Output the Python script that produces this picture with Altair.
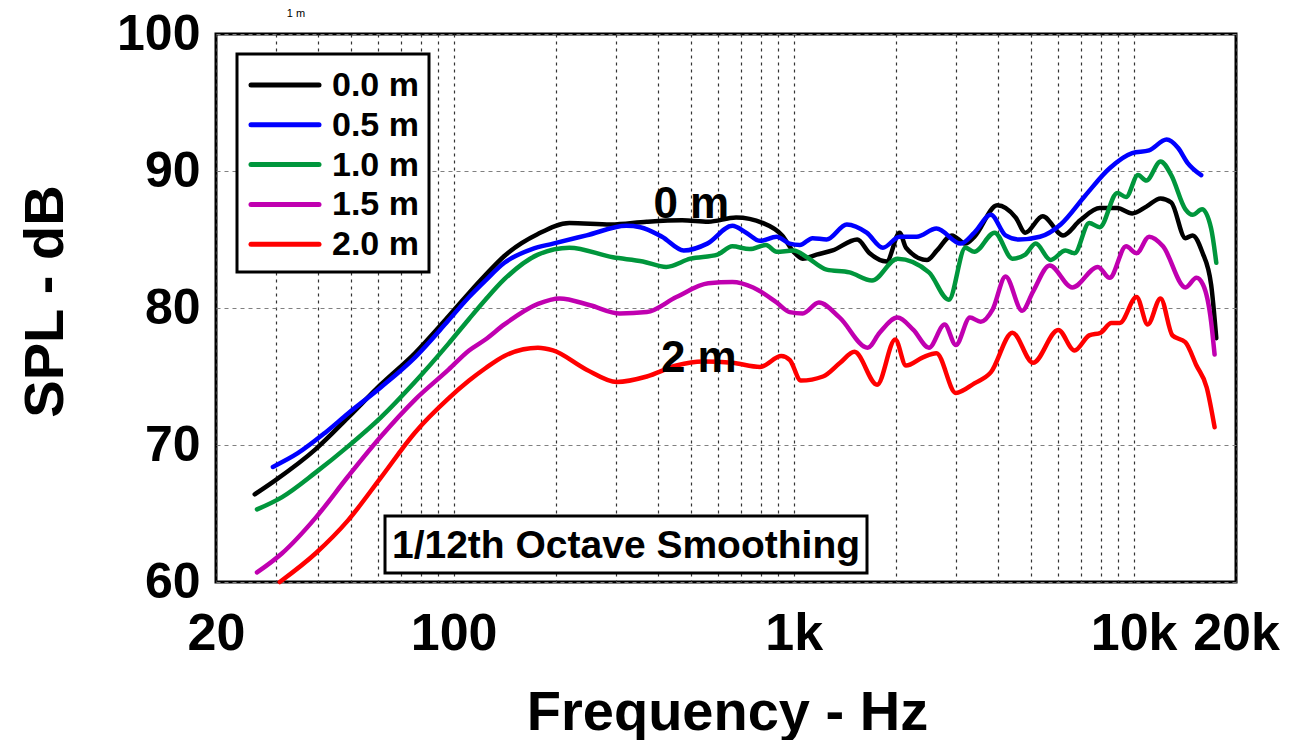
import altair as alt
import pandas as pd

FONT = "Liberation Sans"

series_names = ["0.0 m", "0.5 m", "1.0 m", "1.5 m", "2.0 m"]
series_colors = ["#000000", "#0000ff", "#00963c", "#c000b0", "#ff0000"]

freq_00 = [26, 29.8, 39.3, 48.9, 61, 76.9, 96.6, 111, 124, 141, 177, 219, 290, 370, 470, 561, 677, 813, 925, 1000,
           1063, 1168, 1302, 1538, 1673, 1877, 2050, 2140, 2466, 2640, 2920, 3200, 3400, 3970, 4500, 4800, 5400,
           6200, 6960, 7950, 8950, 9900, 10900, 12000, 12900, 14200, 14900, 15900, 16900, 17500]
spl_00 = [66.4, 67.4, 69.7, 72.0, 74.4, 76.7, 79.4, 81.1, 82.4, 83.8, 85.4, 86.2, 86.1, 86.3, 86.4, 86.3, 86.6, 86.2,
          85.3, 84.1, 83.6, 83.9, 84.2, 85.0, 84.0, 83.4, 85.5, 84.4, 83.5, 84.2, 85.3, 84.7, 85.2, 87.5, 86.6, 85.5,
          86.7, 85.3, 86.4, 87.3, 87.3, 86.9, 87.4, 88.0, 87.7, 85.1, 85.3, 84.1, 81.7, 77.8]

freq_05 = [29.4, 34.8, 41.9, 48.9, 61, 77, 96.6, 111, 124, 141, 170, 196, 246, 322, 354, 410, 475, 557, 660, 725,
           797, 891, 973, 1043, 1137, 1250, 1433, 1640, 1830, 2050, 2300, 2630, 3100, 3400, 3800, 4200, 4600, 5300,
           6100, 7200, 8500, 9900, 11100, 12500, 13500, 14400, 15800]
spl_05 = [68.4, 69.4, 70.9, 72.3, 74.2, 76.4, 79.1, 80.8, 82.0, 83.3, 84.3, 84.7, 85.3, 86.0, 85.9, 85.2, 84.2, 84.7,
          86.0, 85.5, 84.9, 85.2, 84.7, 84.6, 85.1, 85.0, 86.1, 85.5, 84.4, 85.2, 85.2, 85.8, 84.7, 85.5, 86.8, 85.3,
          85.0, 85.2, 86.1, 88.2, 90.2, 91.3, 91.5, 92.3, 91.7, 90.6, 89.7]

freq_10 = [26.4, 31.3, 39.3, 48.9, 61, 76.9, 96.6, 111, 124, 141, 177, 219, 294, 360, 422, 497, 597, 660, 742, 829,
           891, 1000, 1094, 1250, 1460, 1700, 2020, 2500, 2860, 3200, 3400, 3900, 4400, 4800, 5150, 5700, 6300, 6700,
           7400, 7950, 8950, 9500, 10300, 10900, 12000, 12900, 14200, 14900, 15900, 16900, 17500]
spl_10 = [65.3, 66.2, 68.0, 69.9, 72.0, 74.6, 77.4, 79.2, 80.6, 82.1, 83.9, 84.4, 83.7, 83.4, 83.0, 83.6, 83.9, 84.5,
          84.3, 84.6, 84.1, 84.2, 83.7, 82.8, 82.6, 82.0, 83.6, 82.6, 80.6, 84.4, 84.1, 85.5, 83.6, 83.9, 84.7, 83.5,
          84.2, 84.0, 86.2, 85.9, 88.4, 88.1, 89.7, 89.3, 90.7, 89.7, 87.2, 86.8, 87.2, 85.8, 83.3]

freq_15 = [26.4, 31.3, 39.3, 48.9, 61, 76.9, 96.6, 111, 124, 141, 177, 205, 252, 308, 370, 452, 561, 660, 760, 891,
           973, 1063, 1186, 1366, 1651, 1790, 2020, 2250, 2500, 2780, 3000, 3300, 3550, 3850, 4200, 4700, 5060, 5660,
           6600, 7850, 8500, 9500, 10200, 11100, 12200, 14200, 15300, 16000, 16900, 17300]
spl_15 = [60.7, 62.1, 64.7, 67.7, 70.6, 73.3, 75.5, 76.9, 77.7, 78.8, 80.3, 80.7, 80.2, 79.6, 79.7, 80.8, 81.8, 81.9,
          81.5, 80.4, 79.7, 79.6, 80.4, 79.3, 77.1, 78.2, 79.3, 78.4, 77.1, 78.8, 77.3, 79.3, 79.0, 79.9, 82.3, 79.8,
          81.2, 83.1, 81.5, 83.0, 82.2, 84.5, 84.0, 85.2, 84.5, 81.5, 82.2, 81.7, 79.0, 76.6]

freq_20 = [30.8, 39.3, 48.9, 61, 76.9, 96.6, 111, 124, 141, 177, 196, 246, 302, 370, 452, 540, 660, 797, 920, 975,
           1050, 1220, 1370, 1510, 1760, 1990, 2140, 2400, 2630, 3000, 3400, 3800, 4400, 5060, 6000, 6700, 7400, 8000,
           8600, 9100, 10200, 11000, 12000, 13000, 14200, 15300, 16400, 17300]
spl_20 = [60.0, 62.1, 64.5, 67.6, 70.9, 73.4, 74.7, 75.6, 76.5, 77.1, 76.9, 75.5, 74.6, 75.0, 75.8, 76.1, 76.0, 75.7,
          76.5, 76.2, 74.7, 75.0, 76.0, 76.8, 74.4, 77.7, 75.8, 76.4, 76.7, 73.8, 74.5, 75.3, 78.2, 76.0, 78.4, 76.9,
          78.0, 78.2, 78.9, 78.9, 80.8, 78.8, 80.7, 78.0, 77.5, 75.8, 74.2, 71.3]

x_label_values = [20, 100, 1000, 10000, 20000]
x_label_texts = ["20", "100", "1k", "10k", "20k"]
x_grid_values = [30, 40, 50, 60, 70, 80, 90, 100, 200, 300, 400, 500, 600, 700, 800, 900, 1000,
                 2000, 3000, 4000, 5000, 6000, 7000, 8000, 9000, 10000]
y_tick_values = [60, 70, 80, 90, 100]

note_texts = ["0 m", "2 m"]
note_freqs = [500, 526]
note_spl = [86.6, 75.3]

box_text = "1/12th Octave Smoothing"
top_text = "1 m"

rows = []
for name, fs, ss in zip(series_names, [freq_00, freq_05, freq_10, freq_15, freq_20],
                        [spl_00, spl_05, spl_10, spl_15, spl_20]):
    for f, s in zip(fs, ss):
        rows.append({"series": name, "freq": f, "spl": s})
df = pd.DataFrame(rows)

all_x_values = sorted(set(x_grid_values + x_label_values))
label_expr = " : ".join(f"datum.value == {v} ? '{t}'" for v, t in zip(x_label_values, x_label_texts)) + " : ''"

x_scale = alt.Scale(type="log", domain=[20, 20000], nice=False)
y_scale = alt.Scale(domain=[60, 100], nice=False, zero=False)

lines = alt.Chart(df).mark_line(strokeWidth=4.5, strokeCap="round", strokeJoin="round",
                                interpolate="monotone").encode(
    x=alt.X("freq:Q", scale=x_scale,
            axis=alt.Axis(values=all_x_values, labelExpr=label_expr, grid=True, gridDash=[3, 4],
                          gridColor="#333333", gridWidth=1.2, ticks=False, domain=False,
                          labelFont=FONT, labelFontSize=52, labelFontWeight="bold", labelColor="black",
                          labelPadding=26, labelFlush=False, labelOverlap=False,
                          title="Frequency - Hz", titleFont=FONT, titleFontSize=56, titleFontWeight="bold",
                          titleColor="black", titleX=511, titleY=147, titleBaseline="alphabetic",
                          titleAlign="center")),
    y=alt.Y("spl:Q", scale=y_scale,
            axis=alt.Axis(values=y_tick_values, grid=True, gridDash=[4, 4], gridColor="#808080",
                          gridWidth=1.2, ticks=False, domain=False,
                          labelFont=FONT, labelFontSize=50, labelFontWeight="bold", labelColor="black",
                          labelPadding=16, labelFlush=False,
                          title="SPL - dB", titleFont=FONT, titleFontSize=56, titleFontWeight="bold",
                          titleColor="black", titleX=-154, titleY=267, titleAngle=-90,
                          titleBaseline="alphabetic", titleAlign="center")),
    color=alt.Color("series:N", scale=alt.Scale(domain=series_names, range=series_colors), legend=None),
)

# legend (drawn by hand, inside the plot area, top-left)
legend_df = pd.DataFrame({"t": [""]})
legend_layers = [
    alt.Chart(legend_df).mark_rect(fill="white", stroke="black", strokeWidth=3).encode(
        x=alt.value(21), x2=alt.value(213), y=alt.value(20), y2=alt.value(238))
]
for i, (name, col) in enumerate(zip(series_names, series_colors)):
    row_y = 51 + 39.8 * i
    legend_layers.append(
        alt.Chart(legend_df).mark_rule(color=col, strokeWidth=5, strokeCap="round").encode(
            x=alt.value(35), x2=alt.value(103), y=alt.value(row_y)))
    legend_layers.append(
        alt.Chart(pd.DataFrame({"t": [name]})).mark_text(
            font=FONT, fontSize=34, fontWeight="bold", color="black", align="left", baseline="middle"
        ).encode(x=alt.value(116), y=alt.value(row_y + 1), text="t:N"))

notes_df = pd.DataFrame({"t": note_texts, "freq": note_freqs, "spl": note_spl})
notes = alt.Chart(notes_df).mark_text(font=FONT, fontSize=44, fontWeight="bold", color="black",
                                       align="center", baseline="alphabetic").encode(
    x=alt.X("freq:Q", scale=x_scale), y=alt.Y("spl:Q", scale=y_scale), text="t:N")

box_df = pd.DataFrame({"t": [box_text]})
box = alt.Chart(box_df).mark_rect(fill="white", stroke="black", strokeWidth=3).encode(
    x=alt.value(169), x2=alt.value(651), y=alt.value(482), y2=alt.value(539))
box_label = alt.Chart(box_df).mark_text(font=FONT, fontSize=39, fontWeight="bold", color="black",
                                        align="center", baseline="alphabetic").encode(
    x=alt.value(410), y=alt.value(524), text="t:N")

top_df = pd.DataFrame({"t": [top_text]})
top = alt.Chart(top_df).mark_text(font=FONT, fontSize=11, color="#000000", align="center",
                                  baseline="middle").encode(
    x=alt.value(80), y=alt.value(-20), text="t:N")

chart = alt.layer(lines, notes, box, box_label, top, *legend_layers).properties(
    width=1020, height=548, autosize="none",
    padding={"left": 208, "top": 26, "right": 46, "bottom": 158},
    background="white",
).configure_view(stroke="black", strokeWidth=3)

chart.save("out.html", embed_options={"renderer": "svg", "actions": False})
